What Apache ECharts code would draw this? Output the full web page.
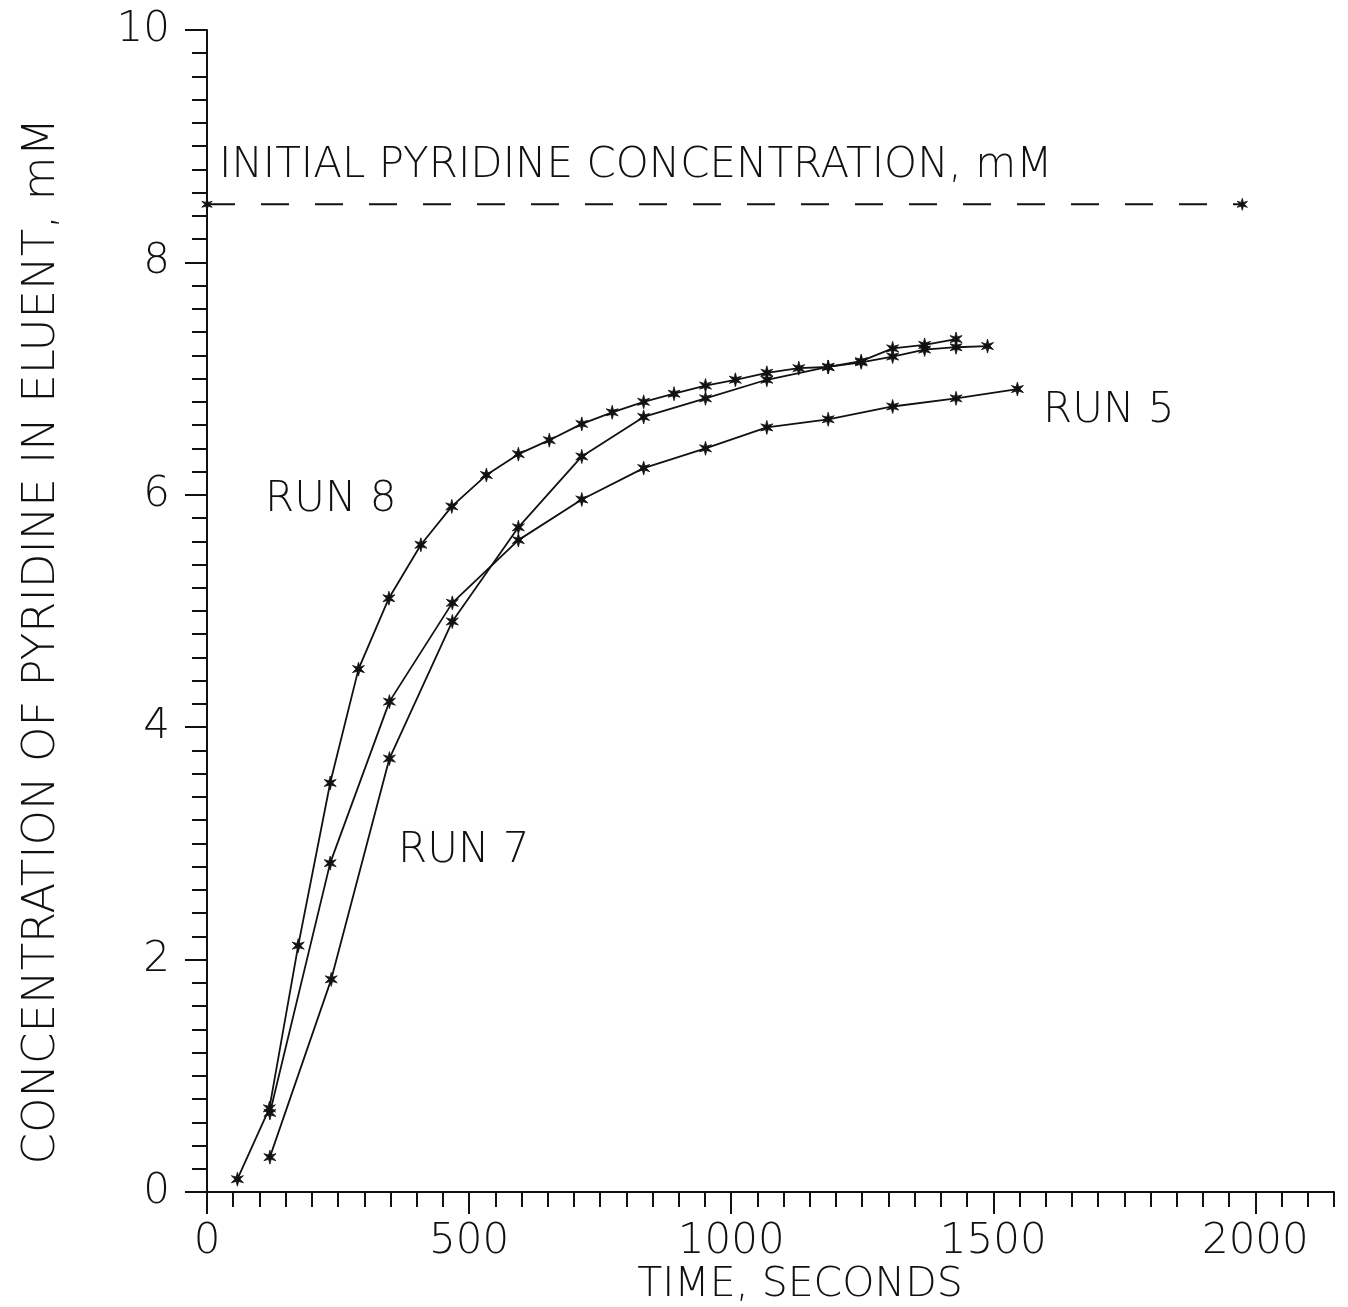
<!DOCTYPE html>
<html>
<head>
<meta charset="utf-8">
<title>Pyridine in eluent</title>
<script src="https://cdn.jsdelivr.net/npm/echarts@6/dist/echarts.min.js"></script>
<style>
  html, body { margin: 0; padding: 0; background: #fff; }
  #chart { width: 1348px; height: 1307px; }
</style>
</head>
<body>
<div id="chart"></div>
<script>
// values (time in s, concentration in mM)
var run8Time = [58, 119, 174, 235, 289, 347, 408, 467, 533, 594, 653, 715, 773, 833, 891, 951, 1008, 1068, 1129, 1185, 1248, 1308, 1369, 1429];
var run8Conc = [0.11, 0.72, 2.12, 3.52, 4.50, 5.11, 5.57, 5.90, 6.17, 6.35, 6.47, 6.61, 6.71, 6.80, 6.87, 6.94, 6.99, 7.05, 7.09, 7.10, 7.15, 7.26, 7.29, 7.34];

var run7Time = [120, 237, 348, 468, 594, 715, 833, 951, 1068, 1185, 1248, 1308, 1369, 1429, 1489];
var run7Conc = [0.30, 1.83, 3.73, 4.91, 5.72, 6.33, 6.67, 6.83, 6.99, 7.10, 7.14, 7.19, 7.25, 7.27, 7.28];

var run5Time = [120, 235, 348, 468, 594, 715, 833, 951, 1068, 1185, 1308, 1429, 1546];
var run5Conc = [0.68, 2.83, 4.22, 5.07, 5.61, 5.96, 6.23, 6.40, 6.58, 6.65, 6.76, 6.83, 6.91];

var initTime = [0, 1975];
var initConc = [8.5, 8.5];

var xMajorTicks = [0, 500, 1000, 1500, 2000];
var xMax = 2150;
var yMax = 10;

var ink = '#111';
var fontFamily = "'DejaVu Sans', 'Liberation Sans', sans-serif";

function pairs(xs, ys) {
  return xs.map(function (x, i) { return [x, ys[i]]; });
}

// six armed asterisk used as point marker
function starPath() {
  var pts = [];
  for (var i = 0; i < 12; i++) {
    var r = i % 2 === 0 ? 10 : 3.6;
    var a = Math.PI / 2 + i * Math.PI / 6;
    pts.push((10 + r * Math.cos(a)).toFixed(2) + ' ' + (10 - r * Math.sin(a)).toFixed(2));
  }
  return 'path://M' + pts.join(' L') + ' Z';
}
var star = starPath();

function runSeries(name, xs, ys) {
  return {
    name: name,
    type: 'line',
    data: pairs(xs, ys),
    symbol: star,
    symbolSize: 14,
    symbolKeepAspect: true,
    lineStyle: { color: ink, width: 1.8 },
    itemStyle: { color: ink, borderColor: ink, borderWidth: 0.8 },
    z: 3
  };
}

var tickLine = { color: ink, width: 2 };
var labelFont = { color: ink, fontSize: 42, fontFamily: fontFamily, fontWeight: 200 };

function textItem(text, x, y, size, align, rot) {
  return {
    type: 'text',
    x: x,
    y: y,
    rotation: rot || 0,
    style: {
      text: text,
      fill: ink,
      fontSize: size,
      fontFamily: fontFamily,
      fontWeight: 200,
      align: align,
      verticalAlign: 'middle'
    }
  };
}

var chart = echarts.init(document.getElementById('chart'));

var option = {
  animation: false,
  backgroundColor: '#fff',
  grid: { left: 207, right: 14, top: 30, bottom: 115 },
  xAxis: [
    {
      type: 'value',
      min: 0,
      max: xMax,
      interval: 50,
      position: 'bottom',
      axisLine: { show: true, onZero: false, lineStyle: tickLine },
      axisTick: { show: true, length: 15, lineStyle: tickLine },
      axisLabel: { show: false },
      splitLine: { show: false }
    },
    {
      type: 'value',
      min: 0,
      max: xMax,
      position: 'bottom',
      axisLine: { show: false, onZero: false },
      axisTick: { show: true, length: 22, customValues: xMajorTicks, lineStyle: tickLine },
      axisLabel: Object.assign({
        customValues: xMajorTicks,
        margin: 29,
        formatter: function (v) { return String(v); }
      }, labelFont),
      splitLine: { show: false }
    }
  ],
  yAxis: {
    type: 'value',
    min: 0,
    max: yMax,
    interval: 2,
    axisLine: { show: true, onZero: false, lineStyle: tickLine },
    axisTick: { show: true, length: 22, lineStyle: tickLine },
    minorTick: { show: true, splitNumber: 10, length: 15, lineStyle: tickLine },
    axisLabel: Object.assign({ margin: 37 }, labelFont),
    splitLine: { show: false },
    minorSplitLine: { show: false }
  },
  series: [
    runSeries('RUN 8', run8Time, run8Conc),
    runSeries('RUN 7', run7Time, run7Conc),
    runSeries('RUN 5', run5Time, run5Conc),
    {
      name: 'initial',
      type: 'line',
      data: pairs(initTime, initConc),
      symbol: star,
      symbolSize: 12,
      symbolKeepAspect: true,
      lineStyle: { color: ink, width: 2, type: [28, 26] },
      itemStyle: { color: ink, borderColor: ink, borderWidth: 0.8 },
      z: 2
    }
  ],
  graphic: [
    textItem('INITIAL PYRIDINE CONCENTRATION, mM', 219, 166, 42, 'left'),
    textItem('RUN 8', 265, 500, 42, 'left'),
    textItem('RUN 7', 398, 851, 42, 'left'),
    textItem('RUN 5', 1043, 411, 42, 'left'),
    textItem('TIME, SECONDS', 800, 1285, 41, 'center'),
    textItem('CONCENTRATION OF PYRIDINE IN ELUENT, mM', 42, 641, 45, 'center', Math.PI / 2)
  ]
};

chart.setOption(option);
</script>
</body>
</html>
